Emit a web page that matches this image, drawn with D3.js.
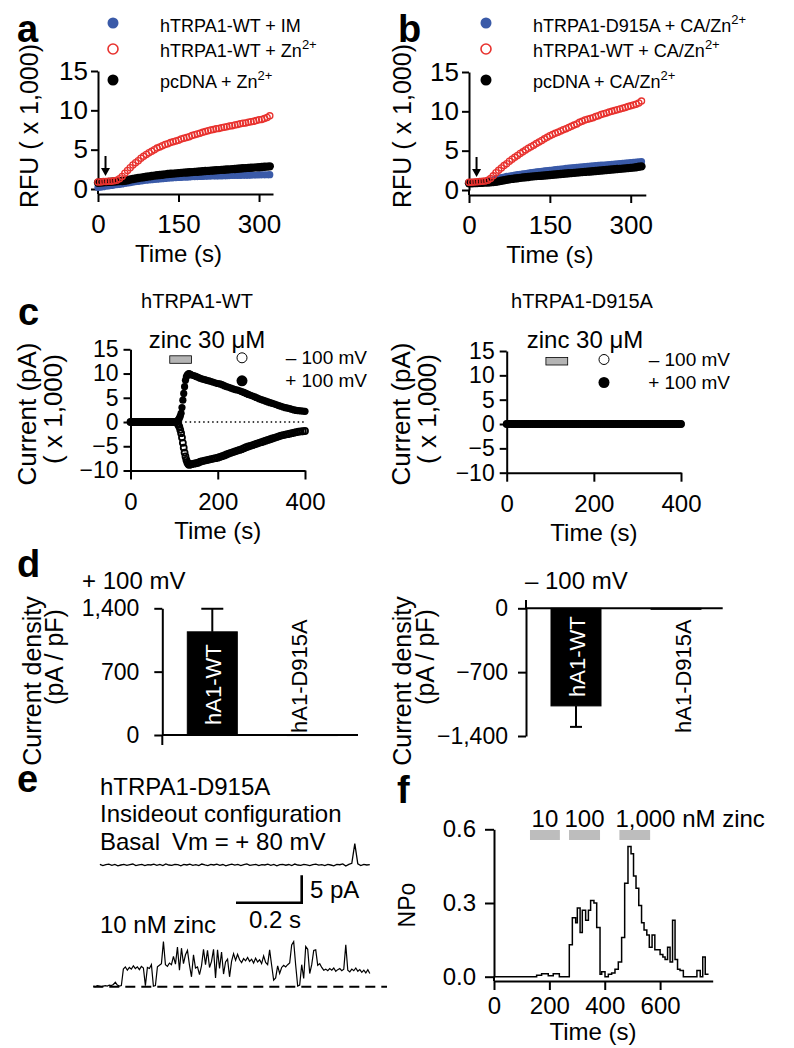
<!DOCTYPE html>
<html><head><meta charset="utf-8">
<script src="https://cdn.jsdelivr.net/npm/d3@7"></script>
<style>
body{margin:0;background:#fff;}
svg{display:block;}
</style></head><body>
<svg id="fig" width="794" height="1048"></svg>
<script>
// ---------------- DATA ----------------
// panels a & b : RFU (x 1,000) sampled every 5 s
const rfuTime = d3.range(0, 321, 5);
const aWT_IM = [0.2,0.25,0.3,0.35,0.4,0.45,0.5,0.55,0.6,0.65,0.7,
 0.76,0.82,0.88,0.93,0.98,1.03,1.07,1.11,1.15,1.19,
 1.22,1.25,1.28,1.31,1.34,1.37,1.4,1.42,1.44,1.46,
 1.48,1.5,1.52,1.54,1.56,1.57,1.58,1.6,1.61,1.62,
 1.63,1.64,1.65,1.66,1.67,1.68,1.69,1.7,1.71,1.72,
 1.73,1.74,1.74,1.75,1.76,1.76,1.77,1.78,1.78,1.79,
 1.8,1.8,1.81,1.82];
const aWT_Zn = [0.9,0.9,0.95,0.95,1.0,1.0,1.05,1.1,1.3,
 1.6,2.0,2.35,2.7,3.05,3.35,3.6,3.9,4.15,4.4,
 4.6,4.8,5.0,5.2,5.35,5.5,5.65,5.75,5.9,6.0,
 6.1,6.2,6.35,6.45,6.55,6.65,6.8,6.9,7.0,7.1,
 7.2,7.3,7.4,7.5,7.55,7.65,7.7,7.8,7.85,7.9,
 8.0,8.05,8.15,8.2,8.3,8.35,8.4,8.5,8.55,8.6,
 8.7,8.8,8.85,8.95,9.1,9.3];
const aPc_Zn = [0.8,0.82,0.85,0.88,0.9,0.92,0.95,0.97,1.0,1.02,1.05,
 1.12,1.2,1.27,1.33,1.4,1.45,1.5,1.55,1.6,1.65,
 1.7,1.74,1.78,1.82,1.86,1.9,1.93,1.96,1.99,2.02,
 2.05,2.08,2.1,2.13,2.15,2.18,2.2,2.23,2.25,2.28,
 2.3,2.33,2.35,2.38,2.4,2.43,2.45,2.48,2.5,2.53,
 2.55,2.58,2.6,2.63,2.65,2.68,2.7,2.72,2.75,2.77,
 2.8,2.82,2.85,2.88];
const bMut_CAZn = [0.95,0.96,0.97,0.98,1.0,1.02,1.05,1.1,1.2,
 1.3,1.4,1.5,1.58,1.65,1.72,1.78,1.84,1.9,1.95,
 2.0,2.05,2.1,2.15,2.2,2.25,2.3,2.34,2.38,2.42,
 2.46,2.5,2.54,2.58,2.62,2.66,2.7,2.74,2.78,2.82,
 2.85,2.88,2.91,2.94,2.97,3.0,3.03,3.06,3.09,3.12,
 3.15,3.18,3.21,3.24,3.27,3.3,3.33,3.36,3.39,3.42,
 3.45,3.48,3.51,3.54,3.57,3.6];
const bWT_CAZn = [1.0,1.0,1.02,1.05,1.08,1.1,1.15,
 1.25,1.45,1.8,2.2,2.5,2.8,3.1,3.35,3.65,3.9,
 4.15,4.4,4.65,4.85,5.1,5.3,5.5,5.7,5.9,6.1,
 6.3,6.5,6.7,6.9,7.05,7.2,7.35,7.5,7.65,7.8,
 7.95,8.1,8.25,8.4,8.6,8.75,8.9,9.0,9.1,9.2,
 9.35,9.45,9.6,9.7,9.8,9.9,10.0,10.1,10.2,10.3,
 10.4,10.5,10.6,10.7,10.8,10.9,11.05,11.3];
const bPc_CAZn = [0.85,0.86,0.87,0.88,0.9,0.92,0.94,0.96,0.98,1.0,
 1.05,1.1,1.17,1.24,1.3,1.36,1.41,1.46,1.5,1.54,
 1.58,1.62,1.66,1.7,1.73,1.76,1.79,1.82,1.85,1.88,
 1.91,1.94,1.97,2.0,2.03,2.06,2.09,2.12,2.15,2.18,
 2.21,2.24,2.27,2.3,2.33,2.36,2.39,2.42,2.45,2.48,
 2.51,2.54,2.57,2.6,2.63,2.66,2.69,2.72,2.75,2.78,
 2.81,2.85,2.9,2.95,3.0];
const rfuTicksX = [0, 150, 300];
const rfuTicksY = [0, 5, 10, 15];
const agonistTime = 14;

// panel c : current (pA x 1,000)
const cTime = d3.range(0, 106, 5).concat(d3.range(108, 141, 2), d3.range(145, 401, 5));
const cWTpos = [0,0,0,0,0,0,0,0,0,0,0,0,0,0,0,0,0,0,0,0,0,0,
 0.3,0.5,0.8,1.2,1.8,3.0,4.5,5.9,7.3,8.6,9.3,9.7,9.9,10.0,9.9,9.8,9.7,
 9.6,9.4,9.2,9.0,8.85,8.75,8.6,8.5,8.35,8.2,
 8.05,7.95,7.85,7.7,7.5,7.3,7.15,7.0,6.85,6.7,
 6.6,6.45,6.25,6.1,5.9,5.7,5.5,5.35,5.2,5.0,
 4.8,4.6,4.45,4.3,4.15,4.0,3.85,3.7,3.55,3.4,
 3.25,3.1,2.95,2.85,2.75,2.6,2.5,2.4,2.35,2.3,
 2.25,2.2];
const cWTneg = [0,0,0,0,0,0,0,0,0,0,0,0,0,0,0,0,0,0,0,0,0,0,
 -0.3,-0.6,-1.0,-1.6,-2.3,-3.2,-4.3,-5.3,-6.3,-7.1,-7.8,-8.3,-8.6,-8.8,-8.8,-8.7,-8.7,
 -8.6,-8.5,-8.4,-8.2,-8.05,-7.95,-7.85,-7.75,-7.65,-7.55,
 -7.45,-7.35,-7.2,-7.05,-6.9,-6.7,-6.5,-6.35,-6.2,-6.05,
 -5.9,-5.75,-5.6,-5.4,-5.2,-5.05,-4.9,-4.75,-4.6,-4.45,
 -4.3,-4.15,-4.0,-3.85,-3.7,-3.55,-3.4,-3.25,-3.1,-2.95,
 -2.8,-2.7,-2.6,-2.5,-2.4,-2.3,-2.2,-2.1,-2.0,-1.95,
 -1.9,-1.85];
const cMutTime = d3.range(0, 401, 5);
const cMutPos = [0,0,0,0,0,0,0,0,0,0,0,0,0,0,0,0,0,0,0,0,0,0,0,0,0,0,0,0,0,0,0,0,0,0,0,0,0,0,0,0,
 0,0,0,0,0,0,0,0,0,0,0,0,0,0,0,0,0,0,0,0,0,0,0,0,0,0,0,0,0,0,0,0,0,0,0,0,0,0,0,0,0];
const cMutNeg = [0,0,0,0,0,0,0,0,0,0,0,0,0,0,0,0,0,0,0,0,0,0,0,0,0,0,0,0,0,0,0,0,0,0,0,0,0,0,0,0,
 0,0,0,0,0,0,0,0,0,0,0,0,0,0,0,0,0,0,0,0,0,0,0,0,0,0,0,0,0,0,0,0,0,0,0,0,0,0,0,0,0];
const cZincApp = [90, 140];
const cTicksX = [0, 200, 400];
const cTicksY = [-10, -5, 0, 5, 10, 15];

// panel d : current density (pA / pF)
const dGroups = ["hA1-WT", "hA1-D915A"];
const dPlus = [1140, 5];
const dPlusErr = [255, 0];
const dMinus = [-1070, -5];
const dMinusErr = [230, 0];
const dTicksPlus = [0, 700, 1400];
const dTicksMinus = [-1400, -700, 0];

// panel e : single channel traces (pA)
const eBasalStart = 0.02, eBasalStep = 0.00913;
const eBasal = [0.1,-0.1,0.05,0.15,-0.05,0.1,-0.15,0.0,0.12,-0.08,
 0.05,0.18,-0.1,0.02,0.1,-0.12,0.08,0.0,0.15,-0.05,
 0.1,-0.1,0.2,0.0,-0.08,0.12,0.05,-0.15,0.1,0.0,
 0.15,-0.05,0.08,-0.12,0.18,0.02,-0.1,0.1,0.0,0.14,
 -0.06,0.09,-0.14,0.04,0.16,-0.02,0.1,-0.1,0.06,0.2,
 -0.08,0.03,0.12,-0.12,0.07,0.0,0.15,-0.05,0.1,-0.15,
 0.05,0.12,-0.04,0.09,-0.1,0.18,0.0,-0.06,0.11,0.04,
 -0.12,0.08,0.16,-0.03,0.06,-0.1,0.12,0.0,-0.14,0.1,
 0.05,0.2,-0.2,0.1,0.3,3.9,0.2,-0.1,0.12,0.0,0.08];
const eZincStep = 0.0061;
const eZinc = [0.1,0.0,0.2,0.1,0.0,0.1,0.2,0.1,0.3,0.2,0.4,
 0.8,0.3,0.1,0.2,
 3.2,3.6,3.0,3.5,3.2,3.8,3.3,3.6,3.1,3.7,3.4,
 0.2,3.5,3.3,4.0,0.1,0.2,3.6,3.9,4.2,
 8.2,4.0,3.7,4.3,4.0,5.5,4.1,7.2,3.0,7.0,4.2,5.8,6.6,3.9,
 1.8,5.8,3.4,3.6,2.2,3.8,6.8,4.0,6.6,3.5,4.6,6.8,
 1.6,6.7,3.3,6.3,2.3,4.5,5.0,1.8,4.6,6.0,4.8,5.9,4.9,
 4.4,5.1,4.7,5.3,4.6,5.0,4.3,5.2,4.5,4.9,4.2,5.6,4.4,4.0,6.7,3.9,
 1.2,1.6,3.8,2.4,3.5,3.9,3.6,4.0,4.3,7.6,8.2,3.9,
 0.1,0.3,4.0,1.5,7.3,6.8,2.4,4.0,6.6,6.7,3.9,4.2,3.5,
 3.0,3.2,2.9,3.3,3.0,3.4,2.8,3.1,3.3,2.9,3.2,7.6,3.0,2.7,3.2,2.9,3.4,2.8,3.1,2.6,3.0,2.5,3.1,2.4];
const eScaleBar = {pA: 5, s: 0.2};

// panel f : NPo step histogram
const npoStart = [0,154,172,196,214,236,272,283,295,301,311,319,331,341,349,361,
 371,383,389,401,413,425,437,449,461,472,484,495,504,513,523,533,542,552,561,571,
 581,590,600,610,618,627,636,645,654,663,672,684,733,745,754,763];
const npoValue = [0,0.006,0.012,0.004,0.012,0,0.13,0.24,0.22,0.28,0.18,0.27,0.23,0.27,0.31,0.30,
 0.20,0.01,0.02,0.0,0.01,0.015,0.03,0.06,0.16,0.38,0.53,0.50,0.41,0.36,0.29,0.22,0.19,0.17,0.12,0.17,
 0.11,0.11,0.09,0.08,0.07,0.12,0.06,0.23,0.07,0.03,0.025,0,0.025,0,0.08,0.01];
const npoEnd = 775;
const fZincBars = [[130, 238], [271, 383], [453, 564]];
const fZincLabels = ["10", "100", "1,000 nM zinc"];
const fTicksX = [0, 200, 400, 600];
const fTicksY = [0, 0.3, 0.6];

// ---------------- DRAWING ----------------
const FONT = '"Liberation Sans", Arial, Helvetica, sans-serif';
const BLUE = "#3a5aa8", RED = "#e8322e", GRAY = "#bdbdbd";
const svg = d3.select("#fig").attr("font-family", FONT);

function styleAxis(g, fs) {
  g.attr("font-family", FONT).attr("font-size", fs);
  g.select(".domain").attr("stroke", "#000").attr("stroke-width", 2);
  g.selectAll(".tick line").attr("stroke", "#000").attr("stroke-width", 2);
  g.selectAll(".tick text").attr("fill", "#000");
  return g;
}
function text(x, y, s, fs, anchor, weight, fill) {
  return svg.append("text").attr("x", x).attr("y", y).attr("font-size", fs)
    .attr("text-anchor", anchor || "start").attr("font-weight", weight || "normal")
    .attr("fill", fill || "#000").text(s);
}
function vtext(bx, cy, s, fs, anchor, fill) {
  return svg.append("text").attr("transform", `translate(${bx},${cy}) rotate(-90)`)
    .attr("font-size", fs).attr("text-anchor", anchor || "middle").attr("fill", fill || "#000").text(s);
}
function vline(x, y1, y2, w) {
  svg.append("line").attr("x1", x).attr("x2", x).attr("y1", y1).attr("y2", y2)
    .attr("stroke", "#000").attr("stroke-width", w || 2);
}
function hline(x1, x2, y, w) {
  svg.append("line").attr("x1", x1).attr("x2", x2).attr("y1", y).attr("y2", y)
    .attr("stroke", "#000").attr("stroke-width", w || 2);
}
function legendText(x, y, main, sup) {
  const t = text(x, y, main, 18);
  if (sup) t.append("tspan").attr("dy", -8).attr("font-size", 13).text(sup);
}

// panel letters
[["a",17,42],["b",398,42],["c",18,325],["d",17,577],["e",17,792],["f",397,803]]
  .forEach(([s,x,y]) => text(x, y, s, 38, "start", "bold"));

// ---- panels a / b ----
function rfuPanel(o) {
  const x = d3.scaleLinear().domain([0, o.tMax]).range([o.left, o.right]);
  const y = d3.scaleLinear().domain([0, 15]).range([o.bottom, o.top]);
  styleAxis(svg.append("g").attr("transform", `translate(0,${o.axisY})`)
    .call(d3.axisBottom(x).tickValues(rfuTicksX).tickSize(8).tickPadding(13).tickSizeOuter(0)), 26);
  styleAxis(svg.append("g").attr("transform", `translate(${o.left},0)`)
    .call(d3.axisLeft(y).tickValues(rfuTicksY).tickSize(7).tickPadding(3).tickSizeOuter(0)), 26);
  vline(o.left, o.bottom, o.axisY);
  o.series.forEach(s => {
    svg.append("g").selectAll("circle").data(s.values).join("circle")
      .attr("cx", (d, i) => x(rfuTime[i])).attr("cy", d => y(d)).attr("r", s.r)
      .attr("fill", s.open ? "none" : s.color)
      .attr("stroke", s.open ? s.color : "none").attr("stroke-width", 1.3);
  });
  const ax = x(agonistTime);
  vline(ax, o.bottom - 33, o.bottom - 20, 2);
  svg.append("path").attr("d", `M${ax-4.5},${o.bottom-21}L${ax+4.5},${o.bottom-21}L${ax},${o.bottom-13}Z`).attr("fill", "#000");
  text((x(0) + x(300)) / 2, o.axisY + 68, "Time (s)", 24, "middle");
  vtext(o.labelX, 126, "RFU ( x 1,000)", 25);
  o.legend.forEach((s, i) => {
    const yy = [23, 49, 80][i];
    svg.append("circle").attr("cx", o.legX).attr("cy", yy).attr("r", s.open ? 5 : 5.5)
      .attr("fill", s.open ? "#fff" : s.color)
      .attr("stroke", s.open ? s.color : "none").attr("stroke-width", 1.6);
    legendText(o.legTextX, [31.5, 57, 88][i], s.label, s.sup);
  });
}
const serA = {
  im: {values: aWT_IM, color: BLUE, r: 3.6, label: "hTRPA1-WT + IM"},
  wt: {values: aWT_Zn, color: RED, r: 3.1, open: true, label: "hTRPA1-WT + Zn", sup: "2+"},
  pc: {values: aPc_Zn, color: "#000", r: 4.2, label: "pcDNA + Zn", sup: "2+"}
};
rfuPanel({left: 98, right: 273, tMax: 326, top: 71, bottom: 189, axisY: 194, labelX: 38,
  legX: 113, legTextX: 160,
  series: [serA.im, serA.pc, serA.wt], legend: [serA.im, serA.wt, serA.pc]});
const serB = {
  mut: {values: bMut_CAZn, color: BLUE, r: 3.6, label: "hTRPA1-D915A + CA/Zn", sup: "2+"},
  wt: {values: bWT_CAZn, color: RED, r: 3.1, open: true, label: "hTRPA1-WT + CA/Zn", sup: "2+"},
  pc: {values: bPc_CAZn, color: "#000", r: 4.2, label: "pcDNA + CA/Zn", sup: "2+"}
};
rfuPanel({left: 469, right: 645.8, tMax: 328, top: 72, bottom: 190, axisY: 195, labelX: 411,
  legX: 486, legTextX: 533,
  series: [serB.mut, serB.pc, serB.wt], legend: [serB.mut, serB.wt, serB.pc]});

// ---- panel c ----
function currentPanel(o) {
  const x = d3.scaleLinear().domain([0, 400]).range([o.left, o.right]);
  const y = d3.scaleLinear().domain([-10, 15]).range([o.bottom, o.top]);
  styleAxis(svg.append("g").attr("transform", `translate(0,${o.bottom})`)
    .call(d3.axisBottom(x).tickValues(cTicksX).tickSize(9).tickPadding(13).tickSizeOuter(0)), 24);
  styleAxis(svg.append("g").attr("transform", `translate(${o.left},0)`)
    .call(d3.axisLeft(y).tickValues(cTicksY).tickSize(7).tickPadding(5).tickSizeOuter(0)), 23);
  if (o.dotted) svg.append("line").attr("x1", x(115)).attr("x2", x(400)).attr("y1", y(0)).attr("y2", y(0))
    .attr("stroke", "#000").attr("stroke-width", 1.5).attr("stroke-dasharray", "1.5,3");
  svg.append("g").selectAll("circle").data(o.neg).join("circle")
    .attr("cx", (d, i) => x(o.time[i])).attr("cy", d => y(d)).attr("r", 3.0)
    .attr("fill", "none").attr("stroke", "#000").attr("stroke-width", 1.8);
  svg.append("g").selectAll("circle").data(o.pos).join("circle")
    .attr("cx", (d, i) => x(o.time[i])).attr("cy", d => y(d)).attr("r", 3.6).attr("fill", "#000");
  svg.append("rect").attr("x", x(cZincApp[0])).attr("width", x(cZincApp[1]) - x(cZincApp[0]))
    .attr("y", o.top + 6.5).attr("height", 7.5).attr("fill", "#b4b4b4").attr("stroke", "#000").attr("stroke-width", 0.8);
  text(o.zincX, 348, "zinc 30 \u03bcM", 24, "middle");
  text(o.titleX, 308, o.title, 20, "middle");
  svg.append("circle").attr("cx", o.legX).attr("cy", o.top + 8.5).attr("r", 5)
    .attr("fill", "#fff").attr("stroke", "#000").attr("stroke-width", 1);
  svg.append("circle").attr("cx", o.legX).attr("cy", o.top + 31.5).attr("r", 5.5).attr("fill", "#000");
  text(o.legTextEnd, o.top + 15, "\u2013 100 mV", 19, "end");
  text(o.legTextEnd, o.top + 38, "+ 100 mV", 19, "end");
  text((x(0) + x(400)) / 2, o.bottom + 68, "Time (s)", 24, "middle");
  vtext(o.labX1, 414, "Current (pA)", 26);
  vtext(o.labX2, 409, "( x 1,000)", 26);
}
currentPanel({left: 130.5, right: 305, top: 349.3, bottom: 470.5, time: cTime, pos: cWTpos, neg: cWTneg,
  dotted: true, zincX: 207, titleX: 197, title: "hTRPA1-WT", legX: 242, legTextEnd: 367, labX1: 36, labX2: 62});
currentPanel({left: 506.7, right: 681, top: 351, bottom: 472.7, time: cMutTime, pos: cMutPos, neg: cMutNeg,
  dotted: false, zincX: 585, titleX: 582, title: "hTRPA1-D915A", legX: 604, legTextEnd: 730, labX1: 410, labX2: 436});

// ---- panel d ----
function densityPanel(o) {
  const y = d3.scaleLinear().domain(o.domain).range([o.yBottom, o.yTop]);
  const x = d3.scaleBand().domain(dGroups).range([o.left, o.left + 200]).paddingInner(0.5).paddingOuter(0.25);
  const y0 = y(0);
  hline(o.left, o.axisEnd, y0, 2);
  styleAxis(svg.append("g").attr("transform", `translate(${o.left},0)`)
    .call(d3.axisLeft(y).tickValues(o.ticks).tickSize(8).tickPadding(o.pad).tickFormat(d3.format(",")).tickSizeOuter(0)), 23);
  vline(o.left, o.stub[0], o.stub[1]);
  dGroups.forEach((g, i) => {
    const v = o.values[i], e = o.errs[i];
    const yv = y(v);
    svg.append("rect").attr("x", x(g)).attr("width", x.bandwidth())
      .attr("y", Math.min(yv, y0)).attr("height", Math.max(Math.abs(yv - y0), 1))
      .attr("fill", "#000").attr("stroke", "#000").attr("stroke-width", 1);
    const cx = x(g) + x.bandwidth() / 2;
    if (e > 0) {
      const ye = y(v + Math.sign(v) * e);
      vline(cx, yv, ye, 2);
      hline(cx - o.cap / 2, cx + o.cap / 2, ye, 2);
    }
  });
  const cWT = x(dGroups[0]) + x.bandwidth() / 2;
  const cMut = x(dGroups[1]) + x.bandwidth() / 2;
  vtext(cWT + 9, o.wtLabelY, dGroups[0], 22, "start", "#fff");
  vtext(cMut + o.mutOff, 733, dGroups[1], 22, "start");
  text(o.titleX, 589, o.title, 24, "start");
  vtext(o.labX1, 681, "Current density", 25);
  vtext(o.labX2, 657, "(pA / pF)", 25);
}
densityPanel({domain: [0, 1400], yBottom: 735, yTop: 608.3, left: 162.3, axisEnd: 358, ticks: dTicksPlus, pad: 15,
  stub: [735, 745], values: dPlus, errs: dPlusErr, cap: 22, wtLabelY: 725, mutOff: -5,
  titleX: 82, title: "+ 100 mV", labX1: 41, labX2: 63});
densityPanel({domain: [-1400, 0], yBottom: 736, yTop: 608.3, left: 526, axisEnd: 722.7, ticks: dTicksMinus, pad: 10,
  stub: [600, 608.3], values: dMinus, errs: dMinusErr, cap: 12, wtLabelY: 697, mutOff: 15,
  titleX: 525, title: "\u2013 100 mV", labX1: 411, labX2: 434});

// ---- panel e ----
(function () {
  const x = d3.scaleLinear().domain([0, 0.2]).range([93.3, 93.3 + 65.7]);
  const yB = d3.scaleLinear().domain([0, 5]).range([865, 865 - 27.5]);
  const yZ = d3.scaleLinear().domain([0, 5]).range([986.7, 986.7 - 27.5]);
  text(100, 795, "hTRPA1-D915A", 24);
  text(100, 822, "Insideout configuration", 24);
  text(100, 850, "Basal", 24);
  text(172, 850, "Vm = + 80 mV", 24);
  svg.append("path").datum(eBasal)
    .attr("d", d3.line().x((d, i) => x(eBasalStart + i * eBasalStep)).y(d => yB(d)))
    .attr("fill", "none").attr("stroke", "#000").attr("stroke-width", 1.3);
  const sbX = 301.7, sbY = 902.7;
  svg.append("path").attr("d", `M${sbX - (x(eScaleBar.s) - x(0))},${sbY}H${sbX}V${sbY - (yB(0) - yB(eScaleBar.pA))}`)
    .attr("fill", "none").attr("stroke", "#000").attr("stroke-width", 2.6);
  text(310, 898, "5 pA", 24);
  text(275, 928, "0.2 s", 24, "middle");
  text(100, 933, "10 nM zinc", 24);
  svg.append("line").attr("x1", 93.3).attr("x2", 387).attr("y1", yZ(0)).attr("y2", yZ(0))
    .attr("stroke", "#000").attr("stroke-width", 2).attr("stroke-dasharray", "10,6");
  svg.append("path").datum(eZinc)
    .attr("d", d3.line().x((d, i) => x(i * eZincStep)).y(d => yZ(d)))
    .attr("fill", "none").attr("stroke", "#000").attr("stroke-width", 1.2);
})();

// ---- panel f ----
(function () {
  const x = d3.scaleLinear().domain([0, 790]).range([494, 712.7]);
  const y = d3.scaleLinear().domain([0, 0.6]).range([976.7, 829.3]);
  styleAxis(svg.append("g").attr("transform", `translate(0,981)`)
    .call(d3.axisBottom(x).tickValues(fTicksX).tickSize(9).tickPadding(7).tickSizeOuter(0)), 24);
  styleAxis(svg.append("g").attr("transform", `translate(494,0)`)
    .call(d3.axisLeft(y).tickValues(fTicksY).tickSize(9).tickPadding(9).tickFormat(d3.format(".1f")).tickSizeOuter(0)), 24);
  vline(494, 976.7, 981);
  const pts = npoStart.map((t, i) => [t, npoValue[i]]).concat([[npoEnd, npoValue[npoValue.length - 1]]]);
  svg.append("path").datum(pts)
    .attr("d", d3.line().x(d => x(d[0])).y(d => y(d[1])).curve(d3.curveStepAfter))
    .attr("fill", "none").attr("stroke", "#000").attr("stroke-width", 1.5);
  fZincBars.forEach(b => {
    svg.append("rect").attr("x", x(b[0])).attr("width", x(b[1]) - x(b[0])).attr("y", 830).attr("height", 10)
      .attr("fill", GRAY);
  });
  text((x(fZincBars[0][0]) + x(fZincBars[0][1])) / 2, 827, fZincLabels[0], 24, "middle");
  text((x(fZincBars[1][0]) + x(fZincBars[1][1])) / 2, 827, fZincLabels[1], 24, "middle");
  text(x(fZincBars[2][0]) - 4, 827, fZincLabels[2], 24, "start");
  text(593, 1040, "Time (s)", 24, "middle");
  vtext(415, 905, "NPo", 23);
})();
</script>
</body></html>
